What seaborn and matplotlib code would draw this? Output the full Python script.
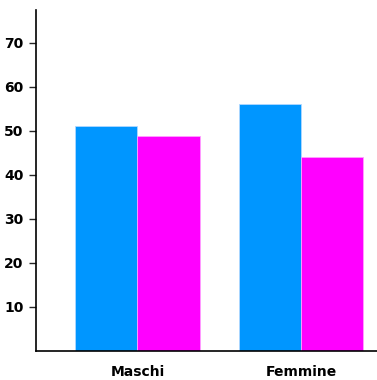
import pandas as pd
import matplotlib.pyplot as plt
import seaborn as sns

# Data
# --------------
gruppi = ["Maschi", "Maschi", "Femmine", "Femmine"]
serie = ["A", "B", "A", "B"]
valori = [51.1, 48.9, 56.1, 44.1]
colori = ["#0096ff", "#ff00ff"]

df = pd.DataFrame({"gruppo": gruppi, "serie": serie, "valore": valori})

sns.set_theme(style="ticks")
plt.rcParams['font.family'] = ['DejaVu Sans']

fig = plt.figure(figsize=(3.77, 3.8), dpi=100)
ax = fig.add_axes([36 / 377, 29 / 380, 341 / 377, 341 / 380])

sns.barplot(data=df, x="gruppo", y="valore", hue="serie", palette=colori,
            width=0.76, legend=False, ax=ax, saturation=1,
            edgecolor="#b0d8ff", linewidth=0.6)
# lighter edge on magenta bars
for bar in ax.patches[2:]:
    bar.set_edgecolor("#ffa0ff")

ax.set_xlim(-0.62, 1.465)
ax.set_ylim(0, 77.5)
ax.set_yticks(range(10, 80, 10))
ax.set_xlabel("")
ax.set_ylabel("")
sns.despine(ax=ax)
for s in ["left", "bottom"]:
    ax.spines[s].set_linewidth(1.2)
    ax.spines[s].set_color("black")
ax.tick_params(axis="y", length=5, width=1, pad=4, labelsize=10)
ax.tick_params(axis="x", length=0, pad=10, labelsize=10)
for lab in ax.get_xticklabels() + ax.get_yticklabels():
    lab.set_fontweight("bold")
    lab.set_color("black")

fig.savefig("out.png", dpi=100)
